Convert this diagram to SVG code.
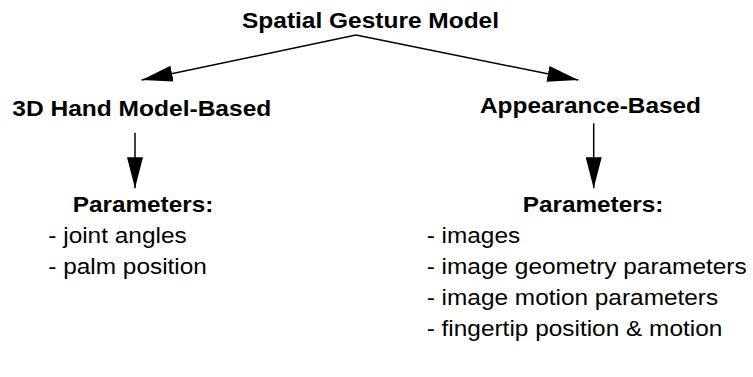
<svg xmlns="http://www.w3.org/2000/svg" width="753" height="377" viewBox="0 0 753 377">
<style>
text{font-family:"Liberation Sans",Arial,sans-serif;font-size:22px;fill:#000}
.b{font-weight:bold}
.c{fill:none;stroke:#000;stroke-width:1.5}
</style>
<defs>
<marker id="ah" viewBox="0 -8 31 16" refX="31" refY="0" markerWidth="31" markerHeight="16" markerUnits="userSpaceOnUse" orient="auto">
<path d="M0,-8 L31,0 L0,8 z" fill="#000"/>
</marker>
</defs>
<rect width="753" height="377" fill="#fff"/>
<g id="root"><text class="b" x="242" y="27.5" textLength="257" lengthAdjust="spacingAndGlyphs">Spatial Gesture Model</text></g>
<g id="hand"><text class="b" x="12.3" y="115.5" textLength="259" lengthAdjust="spacingAndGlyphs">3D Hand Model-Based</text></g>
<g id="appearance"><text class="b" x="480" y="112.5" textLength="221" lengthAdjust="spacingAndGlyphs">Appearance-Based</text></g>
<g id="hand-params">
<text class="b" x="72.7" y="212" textLength="140.6" lengthAdjust="spacingAndGlyphs">Parameters:</text>
<text x="48.3" y="243.3" textLength="138.4" lengthAdjust="spacingAndGlyphs">- joint angles</text>
<text x="48.3" y="274.3" textLength="158.6" lengthAdjust="spacingAndGlyphs">- palm position</text>
</g>
<g id="appearance-params">
<text class="b" x="522.7" y="212" textLength="140.6" lengthAdjust="spacingAndGlyphs">Parameters:</text>
<text x="426.7" y="243.3" textLength="93.5" lengthAdjust="spacingAndGlyphs">- images</text>
<text x="426.7" y="274.3" textLength="320" lengthAdjust="spacingAndGlyphs">- image geometry parameters</text>
<text x="426.7" y="305.3" textLength="291.5" lengthAdjust="spacingAndGlyphs">- image motion parameters</text>
<text x="426.7" y="336.3" textLength="295.6" lengthAdjust="spacingAndGlyphs">- fingertip position &amp; motion</text>
</g>
<g id="connectors">
<path class="c" d="M356,35 L141.7,80" marker-end="url(#ah)"/>
<path class="c" d="M356,35 L578.3,80" marker-end="url(#ah)"/>
<path class="c" d="M135,132.7 L135,188.3" marker-end="url(#ah)"/>
<path class="c" d="M593.7,123.3 L593.7,188.3" marker-end="url(#ah)"/>
</g>
</svg>
